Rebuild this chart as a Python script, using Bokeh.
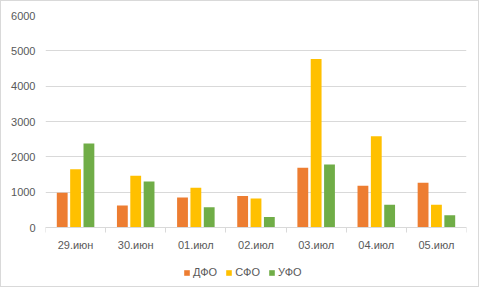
from bokeh.plotting import figure
from bokeh.models import ColumnDataSource, FixedTicker, Legend, LegendItem, Range1d
from bokeh.transform import dodge
from bokeh.embed import file_html
from bokeh.resources import INLINE

categories = ["29.июн", "30.июн", "01.июл", "02.июл", "03.июл", "04.июл", "05.июл"]
dfo = [980, 620, 850, 890, 1690, 1180, 1270]
sfo = [1650, 1465, 1125, 820, 4770, 2580, 645]
ufo = [2375, 1305, 575, 295, 1780, 645, 350]
series_names = ["ДФО", "СФО", "УФО"]
colors = ["#ED7D31", "#FFC000", "#70AD47"]
y_ticks = [0, 1000, 2000, 3000, 4000, 5000, 6000]

x = [i + 0.5 for i in range(len(categories))]
src = ColumnDataSource(dict(x=x, dfo=dfo, sfo=sfo, ufo=ufo))

FONT = "Liberation Sans"
TXT = "#595959"
GRID = "#D9D9D9"

# frame extends below zero so the legend and x labels sit inside it
Y_MAX = 6000
Y_MIN = -Y_MAX * 61 / 212

p = figure(width=479, height=287, output_backend="svg", toolbar_location=None,
           x_range=Range1d(0, len(categories)), y_range=Range1d(Y_MIN, Y_MAX),
           min_border_left=44, min_border_right=14, min_border_top=14, min_border_bottom=0)
p.styles = {"border": "1px solid #D9D9D9"}
p.outline_line_color = None
p.background_fill_color = "white"
p.border_fill_color = "white"

renderers = []
for field, off, col in zip(["dfo", "sfo", "ufo"], [-0.222, 0.0, 0.222], colors):
    r = p.vbar(x=dodge("x", off, range=p.x_range), top=field, bottom=0, width=0.18, source=src,
               fill_color=col, line_color=None)
    renderers.append(r)

# y axis
p.yaxis.ticker = FixedTicker(ticks=y_ticks)
p.yaxis.axis_line_color = None
p.yaxis.major_tick_line_color = None
p.yaxis.minor_tick_line_color = None
p.yaxis.major_label_text_font = FONT
p.yaxis.major_label_text_font_size = "11px"
p.yaxis.major_label_text_color = TXT
p.yaxis.major_label_standoff = 4
p.ygrid.grid_line_color = GRID
p.xgrid.grid_line_color = None

# x axis, fixed at y = 0
p.xaxis.fixed_location = 0
p.xaxis.ticker = FixedTicker(ticks=x, minor_ticks=list(range(len(categories) + 1)))
p.xaxis.major_label_overrides = {xi: c for xi, c in zip(x, categories)}
p.xaxis.axis_line_color = GRID
p.xaxis.major_tick_line_color = None
p.xaxis.minor_tick_line_color = GRID
p.xaxis.minor_tick_out = 5
p.xaxis.minor_tick_in = 0
p.xaxis.major_tick_out = 0
p.xaxis.major_tick_in = 0
p.xaxis.major_label_standoff = 6
p.xaxis.major_label_text_font = FONT
p.xaxis.major_label_text_font_size = "11px"
p.xaxis.major_label_text_color = TXT

legend = Legend(items=[LegendItem(label=n, renderers=[r]) for n, r in zip(series_names, renderers)],
                orientation="horizontal", location=(138, 10))
legend.label_text_font = FONT
legend.label_text_font_size = "11px"
legend.label_text_color = TXT
legend.glyph_width = 7
legend.glyph_height = 7
legend.label_standoff = 3
legend.spacing = 8
legend.border_line_color = None
legend.background_fill_alpha = 0
legend.margin = 0
legend.padding = 4
p.add_layout(legend, "center")

open("out.html", "w").write(file_html(p, INLINE))
